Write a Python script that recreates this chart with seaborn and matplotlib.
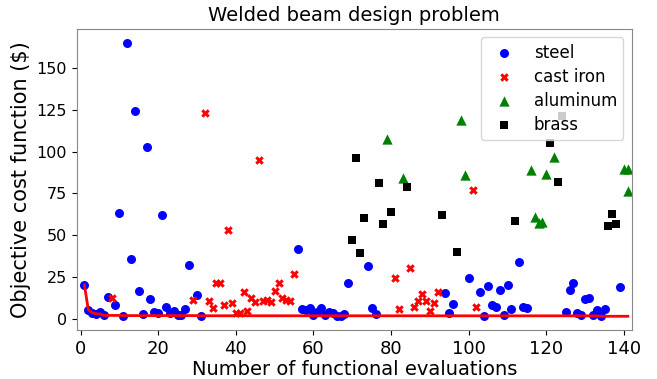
import numpy as np
import pandas as pd
import matplotlib
matplotlib.use("Agg")
import matplotlib.pyplot as plt
import seaborn as sns

# ---- data ----
steel_x = [1, 2, 3, 4, 5, 6, 7, 9, 10, 11, 12, 13, 14, 15, 16, 17, 18, 19, 20, 21,
           22, 23, 24, 25, 26, 27, 28, 30, 31,
           56, 57, 58, 59, 60, 61, 62, 63, 64, 65, 66, 67, 68, 69,
           74, 75, 76, 94, 95, 96, 100, 103, 104, 105, 106, 107, 108, 109, 110, 111,
           113, 114, 115, 125, 126, 127, 128, 129, 130, 131, 132, 133, 134, 135, 139]
steel_y = [20.3, 5.4, 3.8, 3.0, 4.2, 2.1, 13.3, 8.2, 63, 2.0, 165, 35.7, 124, 16.8, 3.0, 103, 11.8, 4.4, 3.8, 62,
           7.4, 3.4, 5.0, 2.2, 2.4, 6.0, 32.5, 14.4, 1.9,
           42, 6.0, 5.4, 6.4, 2.4, 4.0, 6.8, 2.4, 4.4, 3.4, 2.0, 1.85, 2.8, 21.4,
           31.8, 6.4, 2.8, 15.4, 3.8, 8.8, 24.3, 16.3, 2.0, 19.7, 8.4, 7.4, 17.4, 2.4, 20.3, 6.0,
           33.9, 7.0, 6.4, 4.4, 17.4, 21.4, 3.8, 2.4, 11.8, 12.4, 2.4, 5.4, 1.6, 6.0, 19.0]

castiron_x = [8, 29, 32, 33, 34, 35, 36, 37, 38, 39, 40, 41, 42, 43, 44, 45, 46, 47, 48, 49,
              50, 51, 52, 53, 54, 55, 81, 82, 85, 86, 87, 88, 89, 90, 91, 92, 101, 102]
castiron_y = [12.4, 11.4, 123, 10.6, 6.6, 21.4, 21.4, 8.6, 53, 9.8, 3.4, 3.4, 16, 4.6, 12.4, 10.4, 95, 10.8, 11.6, 10.4,
              16.8, 21.4, 12.4, 11.5, 11.0, 27, 24.4, 6.0, 30.5, 7.4, 10.8, 14.8, 10.8, 4.8, 9.8, 16.3, 77.2, 7.4]

aluminum_x = [79, 83, 98, 99, 116, 117, 118, 119, 120, 122, 140, 141, 141]
aluminum_y = [107.7, 84.2, 119, 85.8, 89.2, 60.6, 57.3, 57.9, 86.8, 96.5, 89.8, 89.8, 76.2]

brass_x = [70, 71, 72, 73, 77, 78, 80, 84, 93, 97, 112, 121, 123, 124, 136, 137, 138]
brass_y = [47.3, 96.2, 39.3, 60.3, 81.2, 56.7, 63.9, 78.6, 62.2, 39.9, 58.8, 105, 81.8, 121, 55.8, 62.8, 56.7]

materials = ["steel", "cast iron", "aluminum", "brass"]
colors = {"steel": "blue", "cast iron": "red", "aluminum": "green", "brass": "black"}
markers = {"steel": "o", "cast iron": "X", "aluminum": "^", "brass": "s"}
sizes = {"steel": 42, "cast iron": 38, "aluminum": 55, "brass": 40}

frames = []
for name, xs, ys in [("steel", steel_x, steel_y), ("cast iron", castiron_x, castiron_y),
                     ("aluminum", aluminum_x, aluminum_y), ("brass", brass_x, brass_y)]:
    frames.append(pd.DataFrame({"evals": xs, "cost": ys, "material": name}))
df = pd.concat(frames, ignore_index=True)

# best-so-far curve
order = df.sort_values("evals", kind="stable")
best = order.groupby("evals")["cost"].min().cummin().reset_index()

fig = plt.figure(figsize=(6.57, 3.79), dpi=100)
ax = fig.add_axes([0.1167, 0.1293, 0.8448, 0.7942])

for m in materials:
    sub = df[df["material"] == m]
    sns.scatterplot(data=sub, x="evals", y="cost", color=colors[m], marker=markers[m],
                    s=sizes[m], linewidth=0, ax=ax, label=m, zorder=2)

sns.lineplot(data=best, x="evals", y="cost", color="red", linewidth=2,
             estimator=None, ax=ax, zorder=3, legend=False)

ax.set_xlim(-1, 142)
ax.set_ylim(-6.6, 173.2)
ax.set_xticks(np.arange(0, 141, 20))
ax.set_yticks(np.arange(0, 151, 25))
ax.tick_params(axis="x", labelsize=13)
ax.tick_params(axis="y", labelsize=11.5)
ax.set_title("Welded beam design problem", fontsize=14)
ax.set_xlabel("Number of functional evaluations", fontsize=14, labelpad=2)
ax.set_ylabel("Objective cost function ($)", fontsize=15, labelpad=4)
for sp in ax.spines.values():
    sp.set_color("#888888")

handles, labels = ax.get_legend_handles_labels()
ax.legend(handles[:4], labels[:4], loc="upper right", fontsize=12, framealpha=0.8,
          labelspacing=0.36, borderpad=0.38)

fig.savefig("out.png", dpi=100)
